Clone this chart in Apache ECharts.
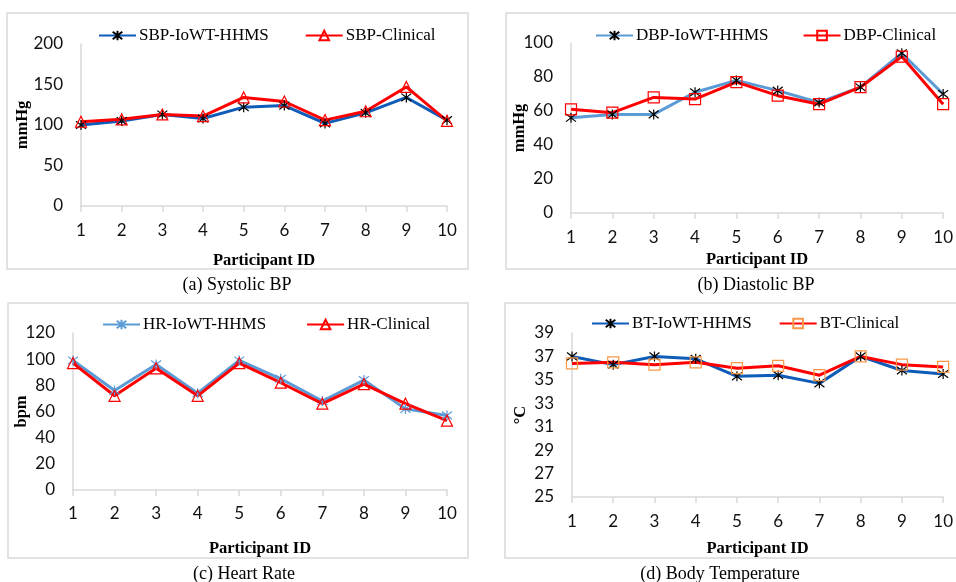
<!DOCTYPE html>
<html>
<head>
<meta charset="utf-8">
<script src="https://cdn.jsdelivr.net/npm/echarts@6/dist/echarts.min.js"></script>
<style>
html,body{margin:0;padding:0;background:#fff;}
#chart{width:956px;height:582px;}
</style>
</head>
<body>
<div id="chart"></div>
<script>
const categories = ['1','2','3','4','5','6','7','8','9','10'];
const sbpIoWT = [100,105,113,108,122,124,102,115,134,106];
const sbpClinical = [104,107,113,111,134,129,106,117,147,105];
const dbpIoWT = [56,58,58,71,78,72,65,74,94,70];
const dbpClinical = [61,59,68,67,77,69,64,74,92,64];
const hrIoWT = [99,76,96,74,99,85,68,84,62,57];
const hrClinical = [97,72,93,72,97,82,66,81,66,53];
const btIoWT = [37.0,36.3,37.0,36.8,35.3,35.4,34.7,37.0,35.8,35.5];
const btClinical = [36.4,36.5,36.3,36.5,36.0,36.2,35.4,37.0,36.3,36.1];
const sbpTicks = [0,50,100,150,200];
const dbpTicks = [0,20,40,60,80,100];
const hrTicks = [0,20,40,60,80,100,120];
const btTicks = [25,27,29,31,33,35,37,39];

const SERIF = '"Liberation Serif","Times New Roman",serif';
const SANS = 'Lato, "Open Sans", sans-serif';
const GRAY = '#D9D9D9';
const DARKBLUE = '#0F5CB8';
const LIGHTBLUE = '#5B9BD5';
const RED = '#FF0000';
const ORANGE = '#F79646';
const STAR = 'path://M0,0L10,10M10,0L0,10M5,-1.5L5,11.5';

const chart = echarts.init(document.getElementById('chart'), null, {renderer:'canvas'});

function xAxis(gi, nameGap, margin){
  return {
    gridIndex: gi, type:'category', data: categories, boundaryGap:false,
    name:'Participant ID', nameLocation:'middle', nameGap: nameGap, nameMoveOverlap:false,
    nameTextStyle:{fontFamily:SERIF, fontWeight:'bold', fontSize:16.5, color:'#000'},
    axisLine:{show:true, lineStyle:{color:GRAY, width:1.5}},
    axisTick:{show:true, length:6, lineStyle:{color:GRAY, width:1.5}},
    axisLabel:{fontFamily:SANS, fontSize:17, color:'#111', margin:margin},
    splitLine:{show:false}
  };
}
function yAxis(gi, ticks, name, nameGap, custom){
  const a = {
    gridIndex: gi, type:'value', min: ticks[0], max: ticks[ticks.length-1],
    name: name, nameLocation:'middle', nameGap: nameGap, nameRotate:90, nameMoveOverlap:false,
    nameTextStyle:{fontFamily:SERIF, fontWeight:'bold', fontSize:16.5, color:'#000'},
    axisLine:{show:true, lineStyle:{color:GRAY, width:1.5}},
    axisTick:{show:false},
    axisLabel:{fontFamily:SANS, fontSize:17, color:'#111', margin:18},
    splitLine:{show:false}
  };
  if (custom) {
    a.axisLabel.customValues = ticks;
  } else {
    a.interval = ticks[1]-ticks[0];
  }
  return a;
}
function starSeries(name, data, gi, lineColor, markColor){
  return {
    name, type:'line', data, xAxisIndex:gi, yAxisIndex:gi,
    symbol: STAR, symbolSize:10, showAllSymbol:true,
    lineStyle:{color:lineColor, width:3},
    itemStyle:{color:lineColor, borderColor:markColor, borderWidth:1.2},
    emphasis:{disabled:true}, animation:false
  };
}
function hollowSeries(name, data, gi, shape, size, markColor){
  return {
    name, type:'line', data, xAxisIndex:gi, yAxisIndex:gi,
    symbol: shape, symbolSize:size, showAllSymbol:true,
    lineStyle:{color:RED, width:3},
    itemStyle:{color:'rgba(255,255,255,0)', borderColor:markColor, borderWidth:1.2},
    emphasis:{disabled:true}, animation:false
  };
}
function legend(names, left, top, gap){
  return {
    data: names, left, top, itemGap: gap, itemWidth:37, itemHeight:12, padding:0,
    textStyle:{fontFamily:SERIF, fontSize:17, color:'#000', padding:[0,0,0,-2]},
    selectedMode:false
  };
}
function caption(text, x, y){
  return {type:'text', x, y, style:{text, fontFamily:SERIF, fontSize:18, fill:'#000', align:'center', verticalAlign:'middle'}};
}
function box(x, y, w, h){
  return {type:'rect', shape:{x, y, width:w, height:h}, style:{fill:'none', stroke:GRAY, lineWidth:1.5}};
}

const option = {
  backgroundColor:'#fff',
  animation:false,
  grid:[
    {left:81, right:509, top:44, bottom:376},
    {left:571, right:10, top:43, bottom:369},
    {left:73, right:509, top:333, bottom:92},
    {left:572, right:12, top:333, bottom:85}
  ],
  xAxis:[ xAxis(0,46,16), xAxis(1,38,16), xAxis(2,50,15), xAxis(3,43,16) ],
  yAxis:[
    yAxis(0, sbpTicks, 'mmHg', 50),
    yAxis(1, dbpTicks, 'mmHg', 43),
    yAxis(2, hrTicks, 'bpm', 43),
    yAxis(3, btTicks, '°C', 43, true)
  ],
  legend:[
    legend(['SBP-IoWT-HHMS','SBP-Clinical'], 98, 27, 36),
    legend(['DBP-IoWT-HHMS','DBP-Clinical'], 595, 27, 34),
    legend(['HR-IoWT-HHMS','HR-Clinical'], 102, 316, 40),
    legend(['BT-IoWT-HHMS','BT-Clinical'], 591, 315, 27)
  ],
  series:[
    starSeries('SBP-IoWT-HHMS', sbpIoWT, 0, DARKBLUE, '#000'),
    hollowSeries('SBP-Clinical', sbpClinical, 0, 'triangle', 11, RED),
    starSeries('DBP-IoWT-HHMS', dbpIoWT, 1, LIGHTBLUE, '#000'),
    hollowSeries('DBP-Clinical', dbpClinical, 1, 'rect', 11, RED),
    starSeries('HR-IoWT-HHMS', hrIoWT, 2, LIGHTBLUE, LIGHTBLUE),
    hollowSeries('HR-Clinical', hrClinical, 2, 'triangle', 11, RED),
    starSeries('BT-IoWT-HHMS', btIoWT, 3, DARKBLUE, '#000'),
    hollowSeries('BT-Clinical', btClinical, 3, 'rect', 11, ORANGE)
  ],
  graphic:[
    box(7, 13, 461, 256),
    box(506, 13, 460, 256),
    box(8, 303, 460, 255),
    box(505, 303, 460, 255),
    caption('(a) Systolic BP', 237, 285),
    caption('(b) Diastolic BP', 756, 285),
    caption('(c) Heart Rate', 244, 574),
    caption('(d) Body Temperature', 720, 574)
  ]
};
chart.setOption(option);
</script>
</body>
</html>
